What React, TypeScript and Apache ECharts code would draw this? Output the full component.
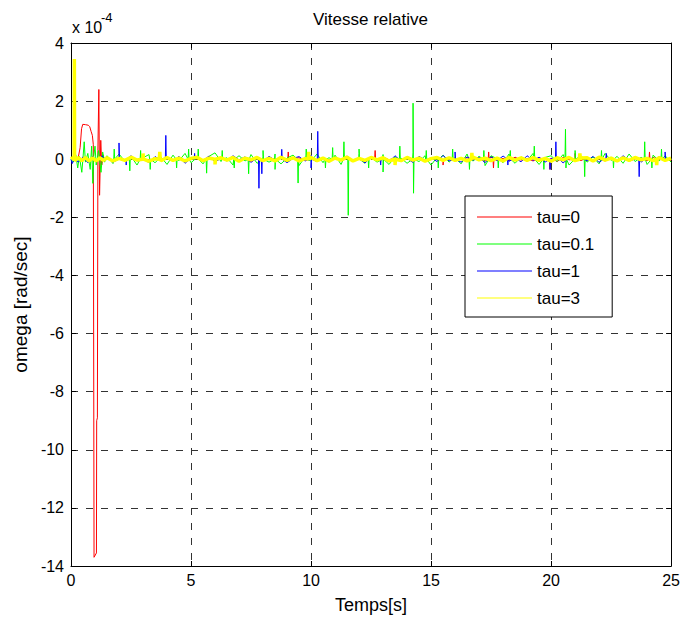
import React, { useEffect, useRef } from "react";
import * as echarts from "echarts";

const X_TICKS = [0, 5, 10, 15, 20, 25];
const Y_TICKS = [4, 2, 0, -2, -4, -6, -8, -10, -12, -14];
const SERIES_NAMES = ["tau=0", "tau=0.1", "tau=1", "tau=3"];
const SERIES_COLORS = ["#ff0000", "#00ff00", "#0000ff", "#ffff00"];

// values in units of 1e-4 rad/sec
const BASE_START = 1.5;
const BASE_STEP = 0.25;

const redHead = [
  [0, 0], [0.1, 0.02], [0.2, -0.03], [0.3, 0.05], [0.38, 0.4], [0.44, 1.05], [0.49, 1.2],
  [0.6, 1.19], [0.72, 1.17], [0.78, 1.12], [0.84, 0.95], [0.89, 0.82], [0.93, 0.5],
  [0.96, -13.7], [1.06, -13.55], [1.07, -9.0], [1.1, -8.9], [1.12, 0.3], [1.16, 2.4],
  [1.19, -1.24], [1.24, 0.65], [1.28, -0.2], [1.34, 0.15], [1.4, -0.05],
];
const greenHead = [
  [0, 0], [0.1, -0.1], [0.2, 0.15], [0.28, -0.3], [0.35, 0.1], [0.45, -0.45], [0.5, 0.05],
  [0.55, 0.6], [0.6, -0.1], [0.7, 0.2], [0.8, -0.35], [0.86, 0.45], [0.91, -0.83],
  [0.95, 0.1], [1.0, 0.45], [1.05, -0.2], [1.15, 0.3], [1.25, -0.45], [1.32, 0.25], [1.4, -0.1],
];
const blueHead = [
  [0, 0], [0.05, -0.15], [0.15, 0.05], [0.3, -0.1], [0.5, 0.08], [0.7, -0.12], [0.9, 0.1],
  [1.1, -0.08], [1.3, 0.12], [1.4, -0.05],
];
const yellowHead = [
  [0, 0], [0.08, 0.05], [0.13, 0.1], [0.14, 3.45], [0.15, -0.05], [0.3, 0.06], [0.45, -0.05],
  [0.6, 0.06], [0.75, -0.06], [0.9, 0.05], [1.05, -0.06], [1.2, 0.05], [1.35, -0.04],
];

const redBase = [
  0.04, -0.06, 0.03, -0.02, 0.07, -0.05, 0.02, -0.08, 0.05, -0.03,
  0.06, -0.04, 0.02, -0.07, 0.05, 0.01, -0.06, 0.08, -0.03, 0.04,
  -0.05, 0.07, -0.02, 0.03, -0.08, 0.05, -0.04, 0.06, -0.01, 0.03,
  -0.07, 0.02, 0.05, -0.04, 0.08, -0.06, 0.03, -0.05, 0.06, -0.02,
  0.04, -0.07, 0.01, -0.03, 0.06, -0.05, 0.08, -0.02, 0.04, -0.06,
  0.03, -0.04, 0.07, -0.08, 0.02, 0.05, -0.03, 0.06, -0.07, 0.01,
  0.05, -0.02, 0.04, -0.06, 0.08, -0.04, 0.03, -0.05, 0.07, -0.03,
  0.02, -0.06, 0.05, -0.01, 0.04, -0.08, 0.06, -0.02, 0.03, -0.05,
  0.07, -0.04, 0.02, -0.06, 0.05, -0.03, 0.08, -0.07, 0.01, 0.04,
  -0.05, 0.06, -0.02, 0.03, -0.04,
];
const greenBase = [
  0.12, -0.15, 0.18, -0.08, 0.1, -0.2, 0.05, 0.16, -0.12, 0.08,
  -0.18, 0.14, -0.05, 0.2, -0.12, 0.06, -0.16, 0.1, 0.22, -0.08,
  0.05, -0.2, 0.12, -0.06, 0.16, -0.14, 0.08, -0.1, 0.18, -0.16,
  0.04, 0.14, -0.22, 0.08, -0.06, 0.18, -0.12, 0.05, 0.14, -0.18,
  0.1, -0.04, 0.2, -0.14, 0.06, -0.1, 0.16, -0.18, 0.08, 0.04,
  -0.14, 0.22, -0.08, 0.12, -0.2, 0.06, 0.14, -0.1, 0.05, -0.16,
  0.18, -0.06, 0.1, -0.22, 0.12, 0.02, -0.12, 0.18, -0.14, 0.08,
  -0.05, 0.2, -0.18, 0.06, 0.12, -0.08, 0.16, -0.2, 0.05, 0.12,
  -0.1, 0.08, -0.16, 0.2, -0.04, 0.1, -0.14, 0.18, -0.08, 0.06,
  -0.18, 0.14, -0.05, 0.12, -0.1,
];
const blueBase = [
  0.05, -0.1, 0.08, -0.04, 0.12, -0.06, 0.02, -0.12, 0.09, -0.03,
  0.06, -0.08, 0.1, -0.14, 0.04, 0.07, -0.05, 0.11, -0.09, 0.03,
  -0.06, 0.12, -0.02, 0.08, -0.11, 0.05, -0.07, 0.1, -0.04, 0.06,
  -0.12, 0.03, 0.09, -0.06, 0.14, -0.08, 0.02, -0.1, 0.07, -0.03,
  0.11, -0.05, 0.04, -0.13, 0.08, -0.02, 0.06, -0.09, 0.12, -0.07,
  0.03, -0.11, 0.1, -0.04, 0.05, -0.08, 0.13, -0.06, 0.02, -0.1,
  0.08, -0.03, 0.06, -0.12, 0.09, -0.05, 0.11, -0.07, 0.04, -0.09,
  0.12, -0.04, 0.07, -0.1, 0.03, 0.09, -0.13, 0.05, -0.02, 0.08,
  -0.06, 0.1, -0.11, 0.04, 0.07, -0.08, 0.12, -0.03, 0.06, -0.1,
  0.05, -0.07, 0.09, -0.04, 0.02,
];
const yellowBase = [
  0.05, -0.06, 0.03, -0.04, 0.07, -0.03, 0.05, -0.07, 0.02, -0.05,
  0.06, -0.04, 0.04, -0.06, 0.03, 0.07, -0.05, 0.04, -0.06, 0.05,
  -0.03, 0.06, -0.07, 0.04, -0.02, 0.06, -0.05, 0.03, -0.06, 0.07,
  -0.04, 0.05, -0.06, 0.02, 0.06, -0.05, 0.04, -0.07, 0.04, -0.03,
  0.07, -0.06, 0.03, -0.04, 0.06, -0.02, 0.05, -0.06, 0.04, -0.05,
  0.06, -0.03, 0.04, -0.07, 0.02, 0.06, -0.04, 0.05, -0.04, 0.03,
  -0.06, 0.07, -0.02, 0.04, -0.05, 0.04, -0.06, 0.06, -0.03, 0.05,
  -0.04, 0.06, -0.04, 0.03, -0.07, 0.05, -0.02, 0.06, -0.05, 0.04,
  0.05, -0.06, 0.07, -0.03, 0.04, -0.06, 0.05, -0.04, 0.06, -0.02,
  0.03, -0.05, 0.06, -0.04, 0.04,
];

const redSpikes = [
  [9.03, 0], [9.05, 0.25], [9.07, 0],
  [12.65, 0], [12.67, 0.3], [12.69, 0],
  [15.48, 0], [15.5, -0.2], [15.52, 0],
  [17.38, 0], [17.4, 0.25], [17.42, 0],
  [17.58, 0], [17.6, -0.3], [17.62, 0],
  [19.93, 0], [19.95, -0.35], [19.97, 0],
  [20.98, 0], [21.0, 0.2], [21.02, 0],
  [24.08, 0], [24.1, 0.25], [24.12, 0],
];
const greenSpikes = [
  [1.78, 0], [1.8, 0.35], [1.82, 0],
  [2.43, 0], [2.45, -0.4], [2.47, 0],
  [2.88, 0], [2.9, 0.3], [2.92, 0],
  [3.28, 0], [3.3, -0.35], [3.32, 0],
  [4.38, 0], [4.4, -0.3], [4.42, 0],
  [4.88, 0], [4.9, 0.35], [4.92, 0],
  [5.28, 0], [5.3, 0.35], [5.32, 0],
  [5.63, 0], [5.65, -0.48], [5.67, 0],
  [6.28, 0], [6.3, 0.3], [6.32, 0],
  [6.78, 0], [6.8, -0.3], [6.82, 0],
  [7.38, 0], [7.4, -0.5], [7.42, 0],
  [7.98, 0], [8.0, 0.3], [8.02, 0],
  [8.48, 0], [8.5, -0.35], [8.52, 0],
  [9.44, 0], [9.46, -0.82], [9.48, 0],
  [9.78, 0], [9.8, 0.35], [9.82, 0],
  [10.58, 0], [10.6, -0.3], [10.62, 0],
  [10.88, 0], [10.9, 0.4], [10.92, 0],
  [11.35, 0], [11.37, 0.6], [11.39, 0],
  [11.53, 0], [11.55, -1.93], [11.57, 0],
  [11.98, 0], [12.0, 0.35], [12.02, 0],
  [12.38, 0], [12.4, -0.3], [12.42, 0],
  [12.98, 0], [13.0, -0.44], [13.02, 0],
  [13.68, 0], [13.7, 0.45], [13.72, 0],
  [14.23, 0], [14.25, 1.93], [14.27, -1.17], [14.29, 0],
  [14.78, 0], [14.8, 0.3], [14.82, 0],
  [15.28, 0], [15.3, -0.3], [15.32, 0],
  [15.88, 0], [15.9, 0.35], [15.92, 0],
  [16.58, 0], [16.6, -0.35], [16.62, 0],
  [17.18, 0], [17.2, 0.3], [17.22, 0],
  [17.78, 0], [17.8, -0.3], [17.82, 0],
  [18.28, 0], [18.3, 0.3], [18.32, 0],
  [19.28, 0], [19.3, 0.45], [19.32, 0],
  [19.68, 0], [19.7, -0.35], [19.72, 0],
  [20.58, 0], [20.6, 1.03], [20.62, -0.3], [20.64, 0],
  [20.98, 0], [21.0, 0.3], [21.02, 0],
  [21.38, 0], [21.4, -0.6], [21.42, 0],
  [22.08, 0], [22.1, 0.3], [22.12, 0],
  [22.58, 0], [22.6, -0.3], [22.62, 0],
  [23.88, 0], [23.9, 0.6], [23.92, 0],
  [24.18, 0], [24.2, -0.3], [24.22, 0],
  [24.58, 0], [24.6, 0.35], [24.62, 0],
];
const blueSpikes = [
  [1.98, 0], [2.0, 0.56], [2.02, 0],
  [2.28, 0], [2.3, -0.2], [2.32, 0],
  [3.93, 0], [3.95, 0.82], [3.97, 0],
  [5.13, 0], [5.15, 0.2], [5.17, 0],
  [7.81, 0], [7.83, -1.0], [7.85, 0],
  [7.93, 0], [7.95, -0.5], [7.97, 0],
  [8.76, 0], [8.78, 0.34], [8.8, 0],
  [9.98, 0], [10.0, -0.3], [10.02, 0],
  [10.26, 0], [10.28, 0.96], [10.3, 0],
  [12.88, 0], [12.9, -0.2], [12.92, 0],
  [15.98, 0], [16.0, 0.25], [16.02, 0],
  [18.18, 0], [18.2, -0.2], [18.22, 0],
  [19.94, 0], [19.96, -0.35], [19.98, 0],
  [20.18, 0], [20.2, 0.6], [20.22, 0],
  [22.28, 0], [22.3, 0.2], [22.32, 0],
  [23.65, 0], [23.67, -0.6], [23.69, 0],
  [24.73, 0], [24.75, 0.25], [24.77, 0],
];
const yellowSpikes = [
  [2.98, 0], [3.0, 0.2], [3.02, 0],
  [3.68, 0], [3.7, 0.25], [3.72, 0],
  [5.98, 0], [6.0, -0.18], [6.02, 0],
  [9.88, 0], [9.9, 0.25], [9.92, 0],
  [13.48, 0], [13.5, -0.2], [13.52, 0],
  [16.68, 0], [16.7, 0.22], [16.72, 0],
  [21.18, 0], [21.2, 0.2], [21.22, 0],
  [24.38, 0], [24.4, -0.2], [24.42, 0],
];

function build(head: number[][], base: number[], spikes: number[][]) {
  const pts = [
    ...head,
    ...base.map((v, i) => [BASE_START + i * BASE_STEP, v]),
    ...spikes,
  ];
  pts.sort((a, b) => a[0] - b[0]);
  return pts;
}

const FONT = "'Liberation Sans', Arial, Helvetica, sans-serif";

export default function App() {
  const ref = useRef<HTMLDivElement>(null);
  useEffect(() => {
    if (!ref.current) return;
    const chart = echarts.init(ref.current, null, { renderer: "svg" });
    const datasets = [
      build(redHead, redBase, redSpikes),
      build(greenHead, greenBase, greenSpikes),
      build(blueHead, blueBase, blueSpikes),
      build(yellowHead, yellowBase, yellowSpikes),
    ];
    const widths = [1, 1, 1, 3.5];
    const axisCommon = {
      type: "value" as const,
      axisLine: { show: true, onZero: false, lineStyle: { color: "#000", width: 1 } },
      axisTick: { show: true, inside: true, length: 5, lineStyle: { color: "#000" } },
    };
    chart.setOption({
      animation: false,
      backgroundColor: "#fff",
      textStyle: { fontFamily: FONT },
      title: {
        text: "Vitesse relative",
        left: 313,
        top: 11,
        padding: 0,
        textStyle: { fontSize: 17, fontWeight: "normal", color: "#000", fontFamily: FONT },
      },
      grid: { left: 71, right: 11, top: 43, bottom: 56, containLabel: false },
      legend: {
        orient: "vertical",
        left: 465,
        top: 196,
        padding: [11, 18, 9, 12],
        itemGap: 7,
        itemWidth: 55,
        itemHeight: 1.2,
        backgroundColor: "#fff",
        borderColor: "#000",
        borderWidth: 1,
        borderRadius: 0,
        data: SERIES_NAMES.map((n) => ({ name: n, icon: "rect" })),
        textStyle: { fontSize: 17, color: "#000", fontFamily: FONT, lineHeight: 20 },
      },
      xAxis: [
        {
          ...axisCommon,
          min: X_TICKS[0],
          max: X_TICKS[X_TICKS.length - 1],
          interval: 5,
          position: "bottom",
          name: "Temps[s]",
          nameLocation: "middle",
          nameGap: 30,
          nameTextStyle: { fontSize: 18, color: "#000", fontFamily: FONT },
          axisLabel: { fontSize: 16, color: "#000", margin: 6, fontFamily: FONT },
          splitLine: { show: true, lineStyle: { color: "#333", type: [7, 8], width: 1 } },
        },
        {
          ...axisCommon,
          min: X_TICKS[0],
          max: X_TICKS[X_TICKS.length - 1],
          interval: 5,
          position: "top",
          axisLabel: { show: false },
          splitLine: { show: false },
        },
      ],
      yAxis: [
        {
          ...axisCommon,
          min: Y_TICKS[Y_TICKS.length - 1],
          max: Y_TICKS[0],
          interval: 2,
          position: "left",
          name: "omega [rad/sec]",
          nameLocation: "middle",
          nameRotate: 90,
          nameGap: 28,
          nameTextStyle: { fontSize: 19, color: "#000", fontFamily: FONT },
          axisLabel: { fontSize: 16, color: "#000", margin: 7, fontFamily: FONT },
          splitLine: { show: true, lineStyle: { color: "#333", type: [7, 8], width: 1 } },
        },
        {
          ...axisCommon,
          min: Y_TICKS[Y_TICKS.length - 1],
          max: Y_TICKS[0],
          interval: 2,
          position: "right",
          axisLabel: { show: false },
          splitLine: { show: false },
        },
      ],
      graphic: [
        {
          type: "text",
          x: 72,
          y: 27.5,
          style: { text: "x 10", font: `16px ${FONT}`, fill: "#000", verticalAlign: "middle" },
        },
        {
          type: "text",
          x: 101,
          y: 17.5,
          style: { text: "-4", font: `13px ${FONT}`, fill: "#000", verticalAlign: "middle" },
        },
      ],
      series: SERIES_NAMES.map((name, i) => ({
        name,
        type: "line",
        xAxisIndex: 0,
        yAxisIndex: 0,
        data: datasets[i],
        showSymbol: false,
        symbol: "none",
        color: SERIES_COLORS[i],
        lineStyle: { color: SERIES_COLORS[i], width: widths[i] },
        z: 2 + i,
      })),
    });
    return () => chart.dispose();
  }, []);
  return (
    <div
      ref={ref}
      style={{ position: "absolute", left: 0, top: 0, width: 683, height: 622 }}
    />
  );
}
